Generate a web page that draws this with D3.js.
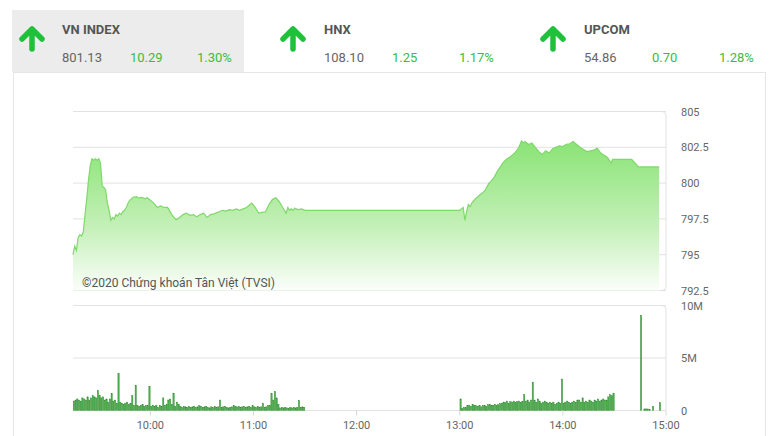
<!DOCTYPE html>
<html><head><meta charset="utf-8">
<script src="https://cdn.jsdelivr.net/npm/d3@7"></script>
<style>html,body{margin:0;padding:0;background:#fff;}svg{display:block;font-family:Roboto,"Noto Sans",sans-serif;}</style>
</head><body>
<svg id="c" width="780" height="436"></svg>
<script>
// ---- header data ----
const indexNames = ["VN INDEX", "HNX", "UPCOM"];
const indexValues = ["801.13", "108.10", "54.86"];
const indexChanges = ["10.29", "1.25", "0.70"];
const indexPercents = ["1.30%", "1.17%", "1.28%"];

// ---- price series ----
const priceTimes = ["09:15","09:16","09:17","09:18","09:19","09:20","09:21","09:22","09:23","09:24","09:25","09:26","09:27","09:28","09:29","09:30","09:31","09:32","09:33","09:34","09:35","09:36","09:37","09:38","09:39","09:40","09:41","09:42","09:43","09:44","09:45","09:46","09:47","09:48","09:49","09:50","09:52","09:53","09:55","09:57","09:58","10:00","10:02","10:04","10:06","10:08","10:10","10:12","10:13","10:15","10:17","10:19","10:21","10:23","10:25","10:27","10:29","10:31","10:33","10:35","10:37","10:40","10:42","10:44","10:46","10:48","10:50","10:52","10:54","10:56","10:58","10:59","11:01","11:03","11:05","11:07","11:09","11:11","11:13","11:15","11:17","11:19","11:20","11:21","11:22","11:23","11:24","11:26","11:28","11:30",
"13:00","13:01","13:02","13:03","13:04","13:05","13:06","13:07","13:09","13:10","13:12","13:14","13:15","13:17","13:18","13:20","13:22","13:24","13:25","13:27","13:29","13:30","13:32","13:34","13:36","13:37","13:38","13:40","13:42","13:44","13:46","13:48","13:50","13:52","13:54","13:56","13:58","14:00","14:02","14:04","14:06","14:08","14:10","14:12","14:14","14:16","14:18","14:20","14:22","14:24","14:26","14:28","14:29","14:40","14:44","14:56"];
const priceValues = [795.0,795.6,795.3,796.2,796.4,796.3,796.6,797.8,798.9,800.2,801.2,801.7,801.6,801.7,801.6,801.7,801.4,799.8,799.7,799.5,798.6,798.1,797.4,797.6,797.5,797.8,797.7,797.9,797.8,798.0,798.1,798.3,798.6,798.8,798.9,799.0,799.05,798.95,799.0,798.9,799.0,798.8,798.6,798.3,798.4,798.3,798.3,797.9,797.7,797.45,797.6,797.8,797.9,797.75,797.8,797.65,797.8,797.9,797.6,797.8,797.85,798.0,798.1,798.05,798.15,798.1,798.2,798.1,798.2,798.3,798.5,798.6,798.3,797.9,797.95,798.0,798.5,798.85,798.97,798.7,798.3,797.9,798.3,798.1,798.2,798.1,798.25,798.15,798.2,798.1,
798.1,798.2,798.3,797.4,798.0,798.5,798.35,798.6,798.9,799.0,799.2,799.4,799.55,800.0,800.1,800.4,800.85,801.2,801.4,801.65,801.8,801.9,802.1,802.4,802.95,802.8,802.9,802.7,802.8,802.5,802.2,802.0,802.25,802.1,802.4,802.5,802.6,802.55,802.7,802.75,802.9,802.7,802.5,802.35,802.2,802.25,802.3,802.45,802.1,801.95,801.8,801.4,801.65,801.65,801.13,801.13];
const priceTicks = [792.5, 795, 797.5, 800, 802.5, 805];

// ---- volume series (millions, one bar per minute) ----
const volMorningStart = "09:15";
const volMorning = [0.9,1.0,1.1,1.0,0.9,1.2,1.1,1.0,1.3,1.0,1.2,
1.4,1.3,1.2,1.9,
1.4,1.2,1.3,1.0,1.1,
0.8,1.1,1.6,0.9,1.0,0.7,
3.5,
0.8,0.7,0.6,0.7,0.8,0.6,0.7,
1.4,0.5,2.4,
0.5,0.4,0.5,0.6,0.4,0.5,0.5,
2.3,
0.4,0.5,0.4,0.5,0.3,0.5,0.4,
1.2,0.5,0.6,
1.0,1.1,0.6,1.65,
0.4,0.8,0.6,
0.4,0.3,0.4,0.35,0.3,0.4,0.3,0.35,0.4,0.3,0.35,0.45,0.4,0.3,0.35,0.4,0.3,0.25,0.35,0.3,0.4,0.3,0.35,
1.0,
0.3,0.35,0.4,0.3,0.25,0.3,0.35,0.45,0.4,0.35,0.4,0.3,0.35,0.4,0.3,0.35,0.4,0.3,0.45,0.35,0.3,0.4,0.3,0.35,
0.7,0.3,0.35,0.5,0.5,1.6,1.0,1.8,1.2,0.6,
0.25,0.3,0.25,0.3,0.25,0.2,0.3,0.25,0.3,0.25,0.3,
0.95,0.3,0.35,0.3];
const volAfternoonStart = "13:00";
const volAfternoon = [1.1,0.2,0.3,0.3,
0.45,0.5,0.4,0.55,0.5,0.45,0.4,0.5,0.35,0.45,0.5,0.4,0.55,0.6,0.45,0.5,0.6,0.5,0.55,0.65,
0.7,0.8,0.75,0.9,0.7,0.85,0.8,0.9,0.75,0.85,0.9,0.8,0.85,
1.5,0.9,1.0,0.8,1.0,
2.7,1.0,0.8,1.1,0.9,0.7,0.8,0.9,0.8,0.7,0.8,
0.7,0.8,0.6,0.7,0.8,0.7,
3.0,0.7,0.8,0.9,0.8,0.7,0.8,0.9,0.8,1.0,1.0,0.8,
1.2,0.8,0.9,0.8,1.0,0.9,0.8,1.0,0.9,1.1,0.9,1.0,1.1,1.0,1.0,
1.3,1.5,1.4,1.6];
const volLateTimes = ["14:45","14:47","14:48","14:49","14:50","14:52","14:56"];
const volLateValues = [9.05,0.15,0.15,0.15,0.1,0.4,0.75];
const volTicks = [0, 5, 10];
const volTickLabels = ["0", "5M", "10M"];
const timeTicks = ["10:00","11:00","12:00","13:00","14:00","15:00"];
const watermark = "©2020 Chứng khoán Tân Việt (TVSI)";

// ---- helpers ----
const parse = s => { const [h, m] = s.split(":").map(Number); return new Date(2020, 0, 1, h, m); };
const addMin = (s, k) => new Date(parse(s).getTime() + k * 60000);

const svg = d3.select("#c");
const green = "#3dbb3d";

// panel
svg.append("rect").attr("x", 13.5).attr("y", 72.5).attr("width", 752).attr("height", 380)
  .attr("fill", "#fff").attr("stroke", "#e6e6e6");
// header grey box for VN INDEX
svg.append("rect").attr("x", 12).attr("y", 10).attr("width", 232).attr("height", 62).attr("fill", "#ececec");

const headerX = [62, 324, 584];
const arrowX = [32, 293, 553];
indexNames.forEach((n, i) => {
  const g = svg.append("g");
  const ax = arrowX[i];
  g.append("path")
    .attr("d", `M${ax},49 L${ax},30 M${ax - 10},39 L${ax},29 L${ax + 10},39`)
    .attr("fill", "none").attr("stroke", "#1fc03a").attr("stroke-width", 5.5)
    .attr("stroke-linecap", "round").attr("stroke-linejoin", "round");
  g.append("text").attr("x", headerX[i]).attr("y", 34).text(n)
    .attr("font-size", 13).attr("font-weight", "bold").attr("fill", "#555");
  g.append("text").attr("x", headerX[i]).attr("y", 62).text(indexValues[i])
    .attr("font-size", 13).attr("fill", "#666");
  g.append("text").attr("x", headerX[i] + 68).attr("y", 62).text(indexChanges[i])
    .attr("font-size", 13).attr("fill", green);
  g.append("text").attr("x", headerX[i] + 135).attr("y", 62).text(indexPercents[i])
    .attr("font-size", 13).attr("fill", green);
});

// scales
const x = d3.scaleTime().domain([parse("09:15"), parse("15:00")]).range([73, 666]);
const y = d3.scaleLinear().domain([792.5, 805]).range([290.5, 111.5]);
const yv = d3.scaleLinear().domain([0, 10]).range([410.5, 305.5]);

const gridColor = "#e2e2e2";

// price grid
svg.append("g").selectAll("line").data(priceTicks).join("line")
  .attr("x1", 73).attr("x2", 666).attr("y1", d => y(d)).attr("y2", d => y(d))
  .attr("stroke", gridColor);
// box right edge
svg.append("path")
  .attr("d", `M662,${y(805)} Q666,${y(805)} 666,${y(805) + 4} V${y(792.5) - 4} Q666,${y(792.5)} 662,${y(792.5)}`)
  .attr("fill", "none").attr("stroke", gridColor);

// gradient
const defs = svg.append("defs");
const grad = defs.append("linearGradient").attr("id", "g1").attr("gradientUnits", "userSpaceOnUse")
  .attr("x1", 0).attr("x2", 0).attr("y1", y(802.5)).attr("y2", y(792.5));
grad.append("stop").attr("offset", 0).attr("stop-color", "#8ee47a");
grad.append("stop").attr("offset", 0.55).attr("stop-color", "#c4f0b8");
grad.append("stop").attr("offset", 1).attr("stop-color", "#fbfefa");

const pdata = priceTimes.map((t, i) => ({ t: parse(t), v: priceValues[i] }));
svg.append("path").datum(pdata)
  .attr("d", d3.area().x(d => x(d.t)).y0(y(792.5)).y1(d => y(d.v)))
  .attr("fill", "url(#g1)");
svg.append("path").datum(pdata)
  .attr("d", d3.line().x(d => x(d.t)).y(d => y(d.v)))
  .attr("fill", "none").attr("stroke", "#7fd86a").attr("stroke-width", 1.2);

// price labels
svg.append("g").selectAll("text").data(priceTicks).join("text")
  .attr("x", 681).attr("y", d => y(d) + 4).text(d => d)
  .attr("font-size", 11).attr("fill", "#666");

// watermark
svg.append("text").attr("x", 82).attr("y", 287).text(watermark)
  .attr("font-size", 12).attr("fill", "#555");

// volume grid
svg.append("g").selectAll("line").data(volTicks).join("line")
  .attr("x1", 73).attr("x2", 666).attr("y1", d => yv(d)).attr("y2", d => yv(d))
  .attr("stroke", gridColor);
svg.append("path")
  .attr("d", `M662,${yv(10)} Q666,${yv(10)} 666,${yv(10) + 4} V${yv(0)}`)
  .attr("fill", "none").attr("stroke", gridColor);
svg.append("g").selectAll("text").data(volTicks).join("text")
  .attr("x", 681).attr("y", (d, i) => yv(d) + 4).text((d, i) => volTickLabels[i])
  .attr("font-size", 11).attr("fill", "#666");

// volume bars
const vdata = [
  ...volMorning.map((v, i) => ({ t: addMin(volMorningStart, i), v })),
  ...volAfternoon.map((v, i) => ({ t: addMin(volAfternoonStart, i), v })),
  ...volLateTimes.map((t, i) => ({ t: parse(t), v: volLateValues[i] }))
];
svg.append("g").selectAll("rect").data(vdata).join("rect")
  .attr("x", d => x(d.t) + 0.2).attr("width", 1.3)
  .attr("y", d => yv(d.v)).attr("height", d => yv(0) - yv(d.v))
  .attr("fill", "#4fae4f").attr("stroke", "#2b8a2b").attr("stroke-width", 0.4);

// time axis
const tt = timeTicks.map(parse);
svg.append("g").selectAll("line").data(tt).join("line")
  .attr("x1", d => x(d)).attr("x2", d => x(d)).attr("y1", yv(0)).attr("y2", yv(0) + 5)
  .attr("stroke", "#d6d6d6");
svg.append("g").selectAll("text").data(tt).join("text")
  .attr("x", d => x(d)).attr("y", 429).attr("text-anchor", "middle")
  .text((d, i) => timeTicks[i]).attr("font-size", 11).attr("fill", "#666");
</script>
</body></html>
